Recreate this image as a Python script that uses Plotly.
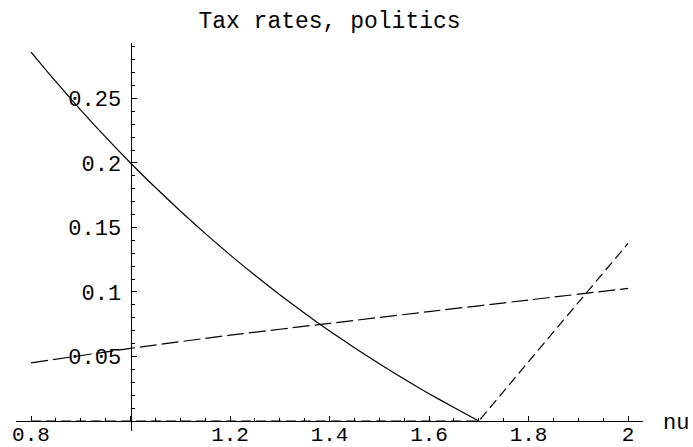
import plotly.graph_objects as go

# Solid curve
solid_x = [0.80, 0.85, 0.90, 0.95, 1.00, 1.05, 1.10, 1.15, 1.20, 1.25,
           1.30, 1.35, 1.40, 1.45, 1.50, 1.55, 1.60, 1.65, 1.70]
solid_y = [0.286, 0.263, 0.241, 0.220, 0.200, 0.181, 0.1628, 0.1454, 0.1288, 0.1130,
           0.0979, 0.0835, 0.0698, 0.0568, 0.0444, 0.0325, 0.0212, 0.0104, 0.000]

# Long-dashed, nearly linear curve
long_x = [0.80, 1.00, 1.20, 1.40, 1.60, 1.80, 2.00]
long_y = [0.045, 0.0563, 0.0665, 0.0757, 0.0848, 0.0938, 0.1028]

# Short-dashed kinked curve
short_x = [0.80, 1.70, 1.80, 1.90, 2.00]
short_y = [0.000, 0.000, 0.046, 0.092, 0.1377]

x_tickvals = [0.8, 1.0, 1.2, 1.4, 1.6, 1.8, 2.0]
x_ticktext = ["0.8", "", "1.2", "1.4", "1.6", "1.8", "2"]
y_tickvals = [0.05, 0.1, 0.15, 0.2, 0.25]
y_ticktext = ["0.05", "0.1", "0.15", "0.2", "0.25"]

x_range = [0.7698, 2.030]
y_range = [-0.00775, 0.293]

FONT = "Liberation Mono, Courier New, monospace"

fig = go.Figure()
fig.add_trace(go.Scatter(x=solid_x, y=solid_y, mode="lines",
                         line=dict(color="black", width=1.2, shape="spline", smoothing=0.6)))
fig.add_trace(go.Scatter(x=long_x, y=long_y, mode="lines",
                         line=dict(color="black", width=1.2, dash="17px,5px",
                                   shape="spline", smoothing=0.6)))
fig.add_trace(go.Scatter(x=short_x, y=short_y, mode="lines",
                         line=dict(color="black", width=1.2, dash="10px,5px")))

xpos = (0 - y_range[0]) / (y_range[1] - y_range[0])
ypos = (1.0 - x_range[0]) / (x_range[1] - x_range[0])

fig.update_layout(
    width=693, height=447,
    margin=dict(l=16, r=50, t=43, b=16, autoexpand=False),
    paper_bgcolor="white", plot_bgcolor="white",
    showlegend=False,
    font=dict(family=FONT, size=22, color="black"),
    title=dict(text="Tax rates, politics", x=0.5, xref="paper",
               y=1 - 20 / 447, yref="container", yanchor="middle", xanchor="center",
               font=dict(family=FONT, size=23, color="black")),
    xaxis=dict(range=x_range, showgrid=False, zeroline=False, automargin=False,
               showline=True, linecolor="black", linewidth=1,
               anchor="free", position=xpos,
               tickmode="array", tickvals=x_tickvals, ticktext=x_ticktext,
               ticks="inside", ticklen=5, tickcolor="black", tickwidth=1,
               ticklabelstandoff=-6, tickfont=dict(size=21),
               minor=dict(dtick=0.05, tick0=0.8, ticks="inside", ticklen=3,
                          tickcolor="black", tickwidth=1, showgrid=False)),
    yaxis=dict(range=y_range, showgrid=False, zeroline=False, automargin=False,
               showline=True, linecolor="black", linewidth=1,
               anchor="free", position=ypos,
               tickmode="array", tickvals=y_tickvals, ticktext=y_ticktext,
               ticks="inside", ticklen=5, tickcolor="black", tickwidth=1,
               ticklabelstandoff=5,
               minor=dict(dtick=0.01, tick0=0, ticks="inside", ticklen=3,
                          tickcolor="black", tickwidth=1, showgrid=False)),
)

fig.add_annotation(text="nu", x=x_range[1], y=0, xref="x", yref="y",
                   xanchor="left", yanchor="middle", xshift=18, yshift=-2,
                   showarrow=False, font=dict(family=FONT, size=22, color="black"))

fig.write_html("out.html")
